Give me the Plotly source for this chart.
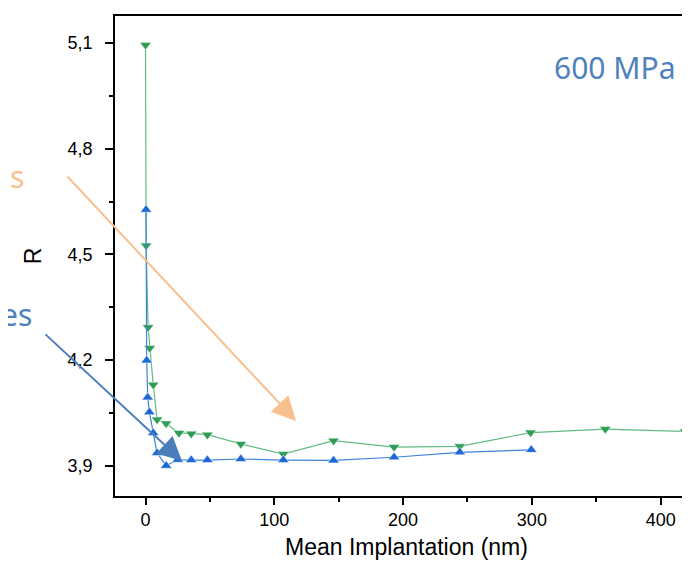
import plotly.graph_objects as go

# Data
green_x = [0, 0.5, 2, 3.3, 6, 9, 16, 26, 35.5, 48, 74, 107, 146, 193, 244, 299, 357, 419]
green_y = [5.095, 4.525, 4.293, 4.234, 4.130, 4.031, 4.020, 3.993, 3.991, 3.988,
           3.962, 3.933, 3.971, 3.953, 3.955, 3.994, 4.004, 3.997]
blue_x = [0.4, 0.9, 1.7, 3, 6, 9, 16, 25, 35.5, 48, 74, 107, 146, 193, 244, 299.5]
blue_y = [4.627, 4.199, 4.094, 4.052, 3.993, 3.936, 3.900, 3.917, 3.916, 3.916,
          3.919, 3.916, 3.915, 3.924, 3.938, 3.945]
x_ticks = [0, 100, 200, 300, 400]
y_ticks = [3.9, 4.2, 4.5, 4.8, 5.1]

W, H = 690, 563
ML, MR, MT, MB = 107, 0, 8, 75
PW, PH = W - ML - MR, H - MT - MB


def px(x):
    return (x - ML) / PW


def py(y):
    return (H - MB - y) / PH


fig = go.Figure()
fig.add_trace(go.Scatter(
    x=green_x, y=green_y, mode="lines+markers",
    line=dict(color="#62bb82", width=1.2),
    marker=dict(symbol="triangle-down", size=10, color="#2e9e57",
                line=dict(color="white", width=0.5)),
    showlegend=False))
fig.add_trace(go.Scatter(
    x=blue_x, y=blue_y, mode="lines+markers",
    line=dict(color="#3f84da", width=1.2),
    marker=dict(symbol="triangle-up", size=10, color="#1c69d6",
                line=dict(color="white", width=0.5)),
    showlegend=False))

font_axes = "Liberation Sans, Arial, sans-serif"
font_cal = "Noto Sans, Open Sans, sans-serif"

fig.update_layout(
    width=W, height=H,
    margin=dict(l=ML, r=MR, t=MT, b=MB),
    paper_bgcolor="white", plot_bgcolor="white",
    separators=",.",
    xaxis=dict(
        range=[-23.7, 429], tickvals=x_ticks, ticks="outside", ticklen=7,
        tickwidth=1.5, tickcolor="black", showline=True, linecolor="black",
        linewidth=1.5, mirror=True, showgrid=False, zeroline=False,
        tickfont=dict(family=font_axes, size=18, color="black"),
        minor=dict(dtick=50, tick0=0, ticks="outside", ticklen=4,
                   tickwidth=1.5, tickcolor="black"),
        title=dict(text="Mean Implantation (nm)", standoff=10,
                   font=dict(family=font_axes, size=23, color="black")),
    ),
    yaxis=dict(
        range=[3.814, 5.177], tickvals=y_ticks, tickformat=".1f",
        ticks="outside", ticklen=8, tickwidth=1.5, tickcolor="black",
        showline=True, linecolor="black", linewidth=1.5, showgrid=False,
        zeroline=False, ticklabelstandoff=9,
        tickfont=dict(family=font_axes, size=18, color="black"),
        minor=dict(dtick=0.15, tick0=3.9, ticks="outside", ticklen=4,
                   tickwidth=1.5, tickcolor="black"),
        title=dict(text="R", standoff=20,
                   font=dict(family=font_axes, size=23, color="black")),
    ),
    annotations=[
        dict(xref="paper", yref="paper", x=px(606), y=py(60), text="600 MPa",
             showarrow=False, xanchor="center", yanchor="middle",
             font=dict(family=font_cal, size=30, color="#4f81bd")),
        dict(xref="paper", yref="paper", x=px(18), y=py(168), text="s",
             showarrow=False, xanchor="right", yanchor="middle",
             font=dict(family=font_cal, size=30, color="#f9bf8f")),
        dict(xref="paper", yref="paper", x=px(26), y=py(306), text="es",
             showarrow=False, xanchor="right", yanchor="middle",
             font=dict(family=font_cal, size=30, color="#4f81bd")),
        dict(xref="paper", yref="paper", x=px(288), y=py(413), text="",
             showarrow=True, axref="pixel", ayref="pixel", ax=-230, ay=-246,
             arrowhead=2, arrowsize=2.4, arrowwidth=2, arrowcolor="#f9bf8f",
             standoff=0),
        dict(xref="paper", yref="paper", x=px(174), y=py(453), text="",
             showarrow=True, axref="pixel", ayref="pixel", ax=-138, ay=-128,
             arrowhead=2, arrowsize=2.4, arrowwidth=2, arrowcolor="#4a7ebb",
             standoff=0),
    ],
)

fig.write_html("out.html")
